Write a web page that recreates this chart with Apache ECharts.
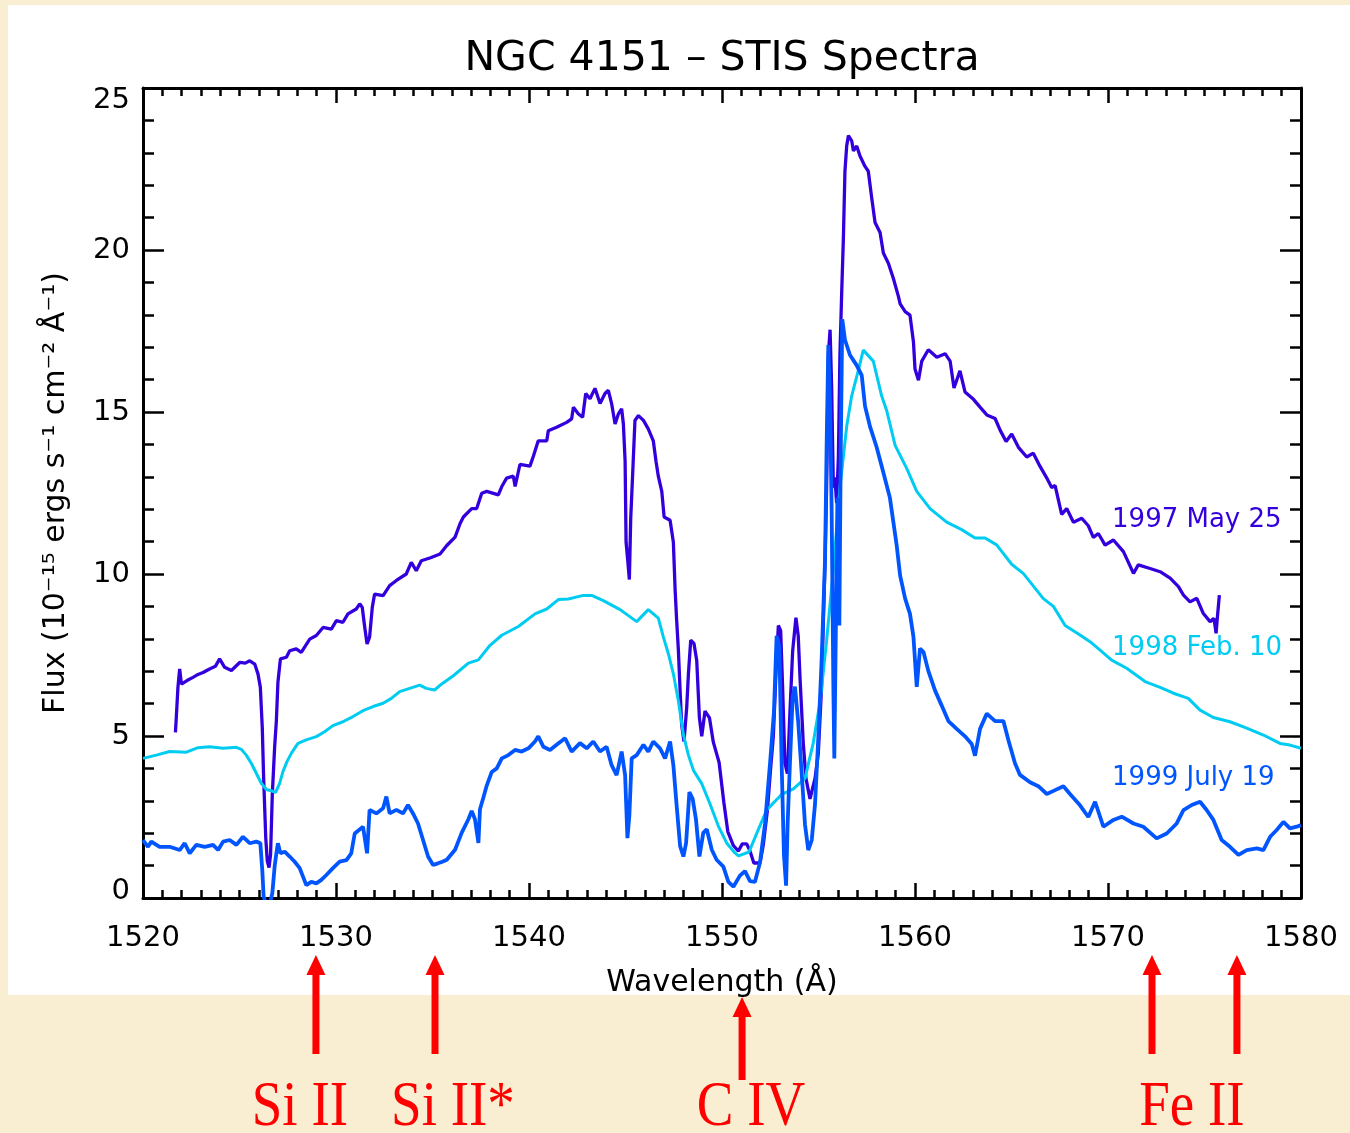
<!DOCTYPE html>
<html>
<head>
<meta charset="utf-8">
<script src="https://cdn.jsdelivr.net/npm/echarts@6/dist/echarts.min.js"></script>
<style>
html,body{margin:0;padding:0;background:#f9edd2;}
#chart{width:1350px;height:1133px;}
</style>
</head>
<body>
<div id="chart"></div>
<script>
// ---- Data: [wavelength (Å), flux (1e-15 erg/s/cm2/Å)] ----
const may1997 = [
[1521.68,5.11],[1521.73,5.62],[1521.81,6.50],[1521.90,7.07],[1521.99,6.60],[1522.30,6.72],[1522.59,6.81],[1522.85,6.90],
[1523.11,6.96],[1523.45,7.07],[1523.75,7.15],[1523.97,7.38],[1524.23,7.12],[1524.58,7.02],[1525.01,7.27],[1525.30,7.25],
[1525.53,7.32],[1525.79,7.22],[1525.96,6.91],[1526.08,6.50],[1526.18,5.26],[1526.25,3.72],[1526.36,1.86],[1526.44,1.14],
[1526.53,0.94],[1526.61,1.35],[1526.70,3.20],[1526.82,4.65],[1526.91,5.47],[1526.99,6.65],[1527.12,7.38],[1527.43,7.43],
[1527.60,7.63],[1527.94,7.69],[1528.20,7.58],[1528.64,7.99],[1528.98,8.10],[1529.33,8.35],[1529.76,8.30],[1530.02,8.56],
[1530.36,8.51],[1530.62,8.77],[1531.05,8.92],[1531.23,9.08],[1531.36,8.97],[1531.49,8.35],[1531.61,7.84],[1531.74,8.05],
[1531.88,8.97],[1532.00,9.38],[1532.44,9.33],[1532.78,9.64],[1533.13,9.80],[1533.64,10.00],[1533.90,10.36],[1534.16,10.10],
[1534.42,10.41],[1534.90,10.50],[1535.39,10.62],[1535.74,10.88],[1536.17,11.14],[1536.43,11.56],[1536.60,11.76],[1537.03,12.02],
[1537.29,12.02],[1537.55,12.49],[1537.81,12.55],[1538.41,12.44],[1538.59,12.70],[1538.84,12.96],[1539.19,13.02],[1539.28,12.70],
[1539.53,13.38],[1540.05,13.33],[1540.23,13.64],[1540.48,14.11],[1540.92,14.11],[1541.00,14.42],[1541.43,14.53],[1541.95,14.68],
[1542.21,14.79],[1542.30,15.15],[1542.56,14.94],[1542.78,14.84],[1542.94,15.57],[1543.16,15.41],[1543.42,15.73],[1543.68,15.26],
[1543.94,15.57],[1544.11,15.67],[1544.28,15.26],[1544.46,14.63],[1544.63,14.94],[1544.80,15.10],[1544.89,14.63],[1544.98,13.48],
[1545.03,10.98],[1545.11,10.46],[1545.20,9.83],[1545.27,11.71],[1545.37,13.07],[1545.49,14.74],[1545.67,14.89],[1545.93,14.74],
[1546.18,14.48],[1546.44,14.11],[1546.58,13.48],[1546.70,13.02],[1546.88,12.55],[1547.00,11.76],[1547.31,11.66],[1547.48,10.98],
[1547.57,9.52],[1547.65,8.58],[1547.74,7.65],[1547.83,6.39],[1547.91,5.35],[1548.03,4.83],[1548.17,5.87],[1548.26,6.92],
[1548.38,7.96],[1548.55,7.85],[1548.69,7.33],[1548.83,5.56],[1548.95,4.99],[1549.12,5.77],[1549.35,5.56],[1549.55,4.81],
[1549.85,4.18],[1550.10,2.93],[1550.30,2.05],[1550.59,1.62],[1550.85,1.45],[1551.05,1.67],[1551.28,1.67],[1551.45,1.45],
[1551.65,1.08],[1551.97,1.08],[1552.14,1.64],[1552.35,2.70],[1552.52,4.00],[1552.66,5.00],[1552.80,7.00],[1552.92,8.41],
[1553.04,8.25],[1553.14,6.52],[1553.26,4.16],[1553.39,3.84],[1553.52,5.73],[1553.66,7.62],[1553.83,8.65],[1553.95,8.09],
[1554.04,6.83],[1554.21,4.79],[1554.35,3.69],[1554.56,3.06],[1554.82,3.69],[1554.99,4.47],[1555.16,6.52],[1555.34,10.46],
[1555.42,12.66],[1555.51,16.76],[1555.60,17.54],[1555.68,15.81],[1555.77,12.66],[1555.85,12.98],[1555.94,12.19],[1556.03,13.61],
[1556.11,16.76],[1556.20,18.65],[1556.29,20.38],[1556.37,22.43],[1556.46,23.21],[1556.55,23.53],[1556.72,23.37],[1556.81,23.06],
[1556.98,23.21],[1557.15,22.90],[1557.41,22.58],[1557.58,22.43],[1557.75,21.64],[1557.93,20.85],[1558.19,20.54],[1558.36,19.91],
[1558.62,19.59],[1558.88,19.12],[1559.14,18.57],[1559.23,18.34],[1559.49,18.10],[1559.74,17.99],[1559.92,17.16],[1560.00,16.33],
[1560.18,15.98],[1560.35,16.57],[1560.69,16.92],[1561.13,16.69],[1561.56,16.80],[1561.82,16.57],[1562.02,15.74],[1562.33,16.27],
[1562.59,15.62],[1563.03,15.39],[1563.37,15.15],[1563.72,14.91],[1564.15,14.80],[1564.41,14.44],[1564.72,14.09],[1565.01,14.32],
[1565.36,13.91],[1565.79,13.61],[1566.13,13.73],[1566.48,13.32],[1566.83,12.96],[1567.08,12.67],[1567.26,12.73],[1567.60,11.84],
[1567.86,12.02],[1568.21,11.60],[1568.64,11.72],[1568.98,11.49],[1569.24,11.13],[1569.50,11.25],[1569.85,10.89],[1570.28,11.05],
[1570.80,10.69],[1571.32,10.02],[1571.57,10.28],[1572.18,10.17],[1572.70,10.07],[1573.22,9.87],[1573.65,9.61],[1573.91,9.35],
[1574.25,9.14],[1574.60,9.25],[1574.94,8.78],[1575.29,8.53],[1575.49,8.63],[1575.60,8.17],[1575.67,8.68],[1575.77,9.35]
];

const feb1998 = [
[1520.00,4.31],[1520.69,4.41],[1521.38,4.52],[1522.25,4.50],[1522.85,4.64],[1523.45,4.67],[1524.15,4.62],[1524.84,4.65],
[1525.09,4.59],[1525.35,4.41],[1525.61,4.16],[1525.87,3.85],[1526.13,3.54],[1526.39,3.35],[1526.65,3.31],[1526.87,3.26],
[1527.08,3.54],[1527.25,3.90],[1527.46,4.21],[1527.69,4.47],[1528.03,4.77],[1528.46,4.88],[1528.98,4.98],[1529.41,5.13],
[1529.84,5.32],[1530.36,5.44],[1530.88,5.60],[1531.40,5.78],[1531.92,5.91],[1532.44,6.01],[1532.87,6.16],[1533.30,6.37],
[1533.82,6.47],[1534.34,6.57],[1534.68,6.47],[1535.11,6.42],[1535.46,6.60],[1536.08,6.86],[1536.86,7.25],[1537.38,7.35],
[1537.98,7.80],[1538.59,8.11],[1539.45,8.38],[1540.31,8.77],[1540.92,8.92],[1541.52,9.21],[1542.04,9.23],[1542.82,9.34],
[1543.25,9.34],[1543.85,9.18],[1544.72,8.90],[1545.58,8.53],[1546.18,8.90],[1546.70,8.64],[1546.96,8.06],[1547.22,7.54],
[1547.48,6.92],[1547.74,6.08],[1548.00,5.04],[1548.26,4.41],[1548.52,3.94],[1548.95,3.53],[1549.38,2.90],[1549.81,2.22],
[1550.24,1.70],[1550.67,1.39],[1550.85,1.30],[1551.40,1.42],[1551.88,2.11],[1552.32,2.72],[1553.10,3.20],[1553.70,3.37],
[1554.30,3.69],[1554.73,4.79],[1555.08,6.05],[1555.42,7.94],[1555.77,10.14],[1556.11,12.66],[1556.46,14.55],[1556.72,15.50],
[1557.06,16.28],[1557.32,16.91],[1557.84,16.57],[1558.27,15.50],[1558.54,15.03],[1558.97,13.97],[1559.57,13.26],[1560.09,12.55],
[1560.78,12.02],[1561.64,11.60],[1562.42,11.37],[1563.11,11.11],[1563.63,11.11],[1564.23,10.90],[1565.01,10.30],[1565.62,10.01],
[1566.65,9.24],[1567.17,9.00],[1567.78,8.41],[1568.55,8.12],[1569.07,7.91],[1569.59,7.65],[1570.19,7.34],[1570.97,7.09],
[1571.92,6.68],[1572.70,6.50],[1573.39,6.32],[1574.16,6.16],[1574.77,5.80],[1575.46,5.57],[1576.32,5.44],[1577.19,5.24],
[1578.05,5.03],[1578.91,4.77],[1579.43,4.72],[1580.00,4.62]
];

const jul1999 = [
[1520.00,1.79],[1520.26,1.58],[1520.43,1.74],[1520.86,1.58],[1521.38,1.58],[1521.90,1.48],[1522.16,1.69],[1522.42,1.38],
[1522.76,1.64],[1523.20,1.58],[1523.63,1.64],[1523.89,1.48],[1524.15,1.74],[1524.49,1.79],[1524.84,1.64],[1525.18,1.89],
[1525.53,1.69],[1525.87,1.74],[1526.08,1.69],[1526.18,0.86],[1526.25,0.04],[1526.39,-0.20],[1526.56,-0.20],[1526.70,0.14],
[1526.82,0.97],[1526.91,1.38],[1526.99,1.69],[1527.12,1.38],[1527.34,1.43],[1527.60,1.28],[1527.86,1.12],[1528.12,0.92],
[1528.29,0.66],[1528.46,0.40],[1528.72,0.50],[1528.98,0.45],[1529.24,0.56],[1529.50,0.71],[1529.84,0.92],[1530.19,1.12],
[1530.54,1.17],[1530.79,1.38],[1530.97,1.99],[1531.40,2.20],[1531.61,1.38],[1531.74,2.72],[1532.09,2.61],[1532.44,2.77],
[1532.61,3.13],[1532.78,2.61],[1533.13,2.72],[1533.47,2.61],[1533.73,2.87],[1533.99,2.61],[1534.25,2.30],[1534.51,1.79],
[1534.77,1.28],[1535.03,1.02],[1535.28,1.07],[1535.51,1.12],[1535.74,1.18],[1536.17,1.49],[1536.51,2.01],[1536.86,2.43],
[1537.03,2.69],[1537.20,2.43],[1537.38,1.70],[1537.46,2.74],[1537.64,3.11],[1537.81,3.47],[1538.07,3.89],[1538.33,4.00],
[1538.59,4.31],[1538.93,4.41],[1539.28,4.57],[1539.62,4.52],[1539.97,4.62],[1540.31,4.83],[1540.48,4.99],[1540.74,4.67],
[1541.09,4.57],[1541.43,4.73],[1541.87,4.93],[1542.21,4.52],[1542.64,4.78],[1542.99,4.62],[1543.33,4.83],[1543.68,4.52],
[1544.02,4.67],[1544.28,4.10],[1544.54,3.79],[1544.80,4.52],[1544.98,3.79],[1545.10,1.85],[1545.20,2.54],[1545.32,4.31],
[1545.58,4.41],[1545.93,4.73],[1546.18,4.52],[1546.44,4.83],[1546.79,4.62],[1547.05,4.31],[1547.31,4.83],[1547.48,4.10],
[1547.65,2.85],[1547.83,1.60],[1548.00,1.28],[1548.14,1.70],[1548.31,3.27],[1548.48,3.06],[1548.65,2.43],[1548.83,1.28],
[1549.03,2.01],[1549.21,2.12],[1549.47,1.49],[1549.72,1.18],[1550.07,0.97],[1550.33,0.50],[1550.59,0.35],[1550.93,0.69],
[1551.19,0.83],[1551.45,0.52],[1551.71,0.50],[1551.97,1.10],[1552.23,2.30],[1552.49,4.16],[1552.69,5.73],[1552.83,8.09],
[1552.97,7.78],[1553.09,4.16],[1553.21,1.32],[1553.32,0.38],[1553.40,2.27],[1553.52,4.16],[1553.66,6.21],[1553.78,6.52],
[1553.95,5.42],[1554.13,3.84],[1554.30,2.27],[1554.47,1.48],[1554.65,1.79],[1554.82,2.90],[1554.99,4.95],[1555.16,7.31],
[1555.34,10.46],[1555.42,13.92],[1555.51,17.07],[1555.60,15.18],[1555.68,12.03],[1555.77,6.52],[1555.82,4.31],[1555.91,8.88],
[1555.98,12.35],[1556.08,8.41],[1556.15,13.61],[1556.23,17.86],[1556.37,17.23],[1556.63,16.76],[1556.98,16.44],[1557.24,16.13],
[1557.41,15.18],[1557.67,14.55],[1558.01,13.92],[1558.36,13.13],[1558.70,12.35],[1558.88,11.60],[1559.05,10.89],[1559.23,9.95],
[1559.49,9.24],[1559.74,8.77],[1559.92,8.06],[1560.09,6.52],[1560.26,7.70],[1560.44,7.59],[1560.69,7.01],[1561.04,6.40],
[1561.39,5.93],[1561.73,5.46],[1562.16,5.22],[1562.59,4.99],[1562.94,4.75],[1563.11,4.39],[1563.37,5.22],[1563.72,5.69],
[1564.15,5.46],[1564.58,5.46],[1564.84,4.87],[1565.18,4.16],[1565.44,3.80],[1565.96,3.57],[1566.39,3.45],[1566.83,3.21],
[1567.26,3.33],[1567.69,3.45],[1568.03,3.21],[1568.55,2.86],[1568.98,2.50],[1569.33,2.97],[1569.76,2.20],[1570.28,2.41],
[1570.71,2.51],[1571.32,2.30],[1571.83,2.20],[1572.52,1.84],[1573.04,1.99],[1573.56,2.30],[1573.91,2.71],[1574.34,2.87],
[1574.77,2.97],[1575.12,2.71],[1575.46,2.41],[1575.89,1.79],[1576.32,1.58],[1576.76,1.33],[1577.19,1.48],[1577.71,1.53],
[1578.05,1.48],[1578.40,1.89],[1578.74,2.10],[1579.09,2.35],[1579.43,2.15],[1579.78,2.20],[1580.00,2.25]
];

const seriesNames = ['1997 May 25', '1998 Feb. 10', '1999 July 19'];
// anchor (wavelength, flux) of each in-plot series label
const seriesLabelAt = [[1570.21, 11.67], [1570.21, 7.72], [1570.21, 3.70]];
// absorption-line markers below the plot: arrow wavelengths and label centres
const markerNames = ['Si II', 'Si II*', 'C IV', 'Fe II'];
const markerArrowWl = [[1528.96], [1535.13], [1551.04], [1572.28, 1576.68]];
const markerLabelWl = [1528.13, 1536.06, 1551.50, 1574.35];

const colors = ['#3300dd', '#00ccf2', '#0055ff'];
const widths = [3.3, 3, 3.8];
const FONT = 'DejaVu Sans';

const chart = echarts.init(document.getElementById('chart'), null, {renderer: 'canvas'});

function xAxisCfg(pos, labels) {
  return {
    type: 'value', position: pos, min: 1520, max: 1580, interval: 10,
    axisLine: {show: true, onZero: false, lineStyle: {color: '#000', width: 3}},
    axisTick: {show: true, inside: true, length: 15, lineStyle: {color: '#000', width: 2.5}},
    minorTick: {show: true, splitNumber: 10, length: 8, lineStyle: {color: '#000', width: 2.5}},
    splitLine: {show: false}, minorSplitLine: {show: false},
    axisLabel: {show: labels, margin: 26, fontSize: 29, fontFamily: FONT, color: '#000',
                showMinLabel: true, showMaxLabel: true, hideOverlap: false,
                formatter: v => String(v)},
    name: labels ? 'Wavelength (Å)' : '', nameLocation: 'middle', nameGap: 70,
    nameTextStyle: {fontSize: 30, fontFamily: FONT, color: '#000'}
  };
}
function yAxisCfg(pos, labels) {
  return {
    type: 'value', position: pos, min: 0, max: 25, interval: 5,
    axisLine: {show: true, onZero: false, lineStyle: {color: '#000', width: 3}},
    axisTick: {show: true, inside: true, length: 21, lineStyle: {color: '#000', width: 2.5}},
    minorTick: {show: true, splitNumber: 5, length: 11, lineStyle: {color: '#000', width: 2.5}},
    splitLine: {show: false}, minorSplitLine: {show: false},
    axisLabel: {show: labels, margin: 13, fontSize: 29, fontFamily: FONT, color: '#000',
                showMinLabel: true, showMaxLabel: true, hideOverlap: false,
                // end labels are kept inside the axis range, as in the original
                formatter: v => v === 25 ? '{top|25}' : (v === 0 ? '{bot|0}' : String(v)),
                rich: {
                  top: {fontSize: 29, fontFamily: FONT, color: '#000', padding: [24, 0, 0, 0]},
                  bot: {fontSize: 29, fontFamily: FONT, color: '#000', padding: [0, 0, 14, 0]}
                }},
    name: labels ? 'Flux (10⁻¹⁵ ergs s⁻¹ cm⁻² Å⁻¹)' : '', nameLocation: 'middle', nameGap: 72,
    nameTextStyle: {fontSize: 30, fontFamily: FONT, color: '#000'}
  };
}

const datasets = [may1997, feb1998, jul1999];
const drawOrder = [0, 2, 1];

const option = {
  backgroundColor: '#f9edd2',
  animation: false,
  title: {
    text: 'NGC 4151 – STIS Spectra', left: 722, top: 39, textAlign: 'center', padding: 0,
    textStyle: {fontFamily: FONT, fontSize: 41, fontWeight: 'normal', color: '#000'}
  },
  grid: {left: 143, top: 88, width: 1158, height: 810, show: false, containLabel: false, outerBoundsMode: 'none'},
  xAxis: [xAxisCfg('bottom', true), xAxisCfg('top', false)],
  yAxis: [yAxisCfg('left', true), yAxisCfg('right', false)],
  series: drawOrder.map(i => ({
    name: seriesNames[i], type: 'line', xAxisIndex: 0, yAxisIndex: 0,
    data: datasets[i], showSymbol: false, symbol: 'none', clip: true,
    lineStyle: {color: colors[i], width: widths[i]}, z: 3 + i
  }))
};
chart.setOption(option);

// Background panel and annotations (anchored through the axes' own scale)
const g = [{
  type: 'rect', id: 'panel', z: -100, silent: true,
  shape: {x: 8, y: 5, width: 1342, height: 990}, style: {fill: '#ffffff'}
}];
seriesLabelAt.forEach((p, i) => {
  const px = chart.convertToPixel({gridIndex: 0}, p);
  g.push({
    type: 'text', id: 'slab' + i, x: px[0], y: px[1], z: 10, silent: true,
    style: {text: seriesNames[i], fill: colors[i], font: '26px "' + FONT + '"',
            textAlign: 'left', textVerticalAlign: 'middle', align: 'left', verticalAlign: 'middle'}
  });
});
const red = '#ff0000';
markerArrowWl.forEach((wls, k) => {
  const isCIV = markerNames[k] === 'C IV';
  const tip = isCIV ? 997 : 955;
  const bottom = isCIV ? 1080 : 1054;
  wls.forEach((wl, j) => {
    const x = chart.convertToPixel({xAxisIndex: 0}, wl);
    g.push({type: 'polygon', id: 'head' + k + '_' + j, z: 10, silent: true,
            shape: {points: [[x, tip], [x - 9.5, tip + 20], [x + 9.5, tip + 20]]}, style: {fill: red}});
    g.push({type: 'rect', id: 'shaft' + k + '_' + j, z: 10, silent: true,
            shape: {x: x - 3.5, y: tip + 18, width: 7, height: bottom - tip - 18}, style: {fill: red}});
  });
  const lx = chart.convertToPixel({xAxisIndex: 0}, markerLabelWl[k]);
  g.push({
    type: 'text', id: 'mlab' + k, x: lx, y: 1108, scaleY: 1.17, z: 10, silent: true,
    style: {text: markerNames[k], fill: red, font: '55px "Liberation Serif"',
            textAlign: 'center', textVerticalAlign: 'middle', align: 'center', verticalAlign: 'middle'}
  });
});
chart.setOption({graphic: g});
</script>
</body>
</html>
